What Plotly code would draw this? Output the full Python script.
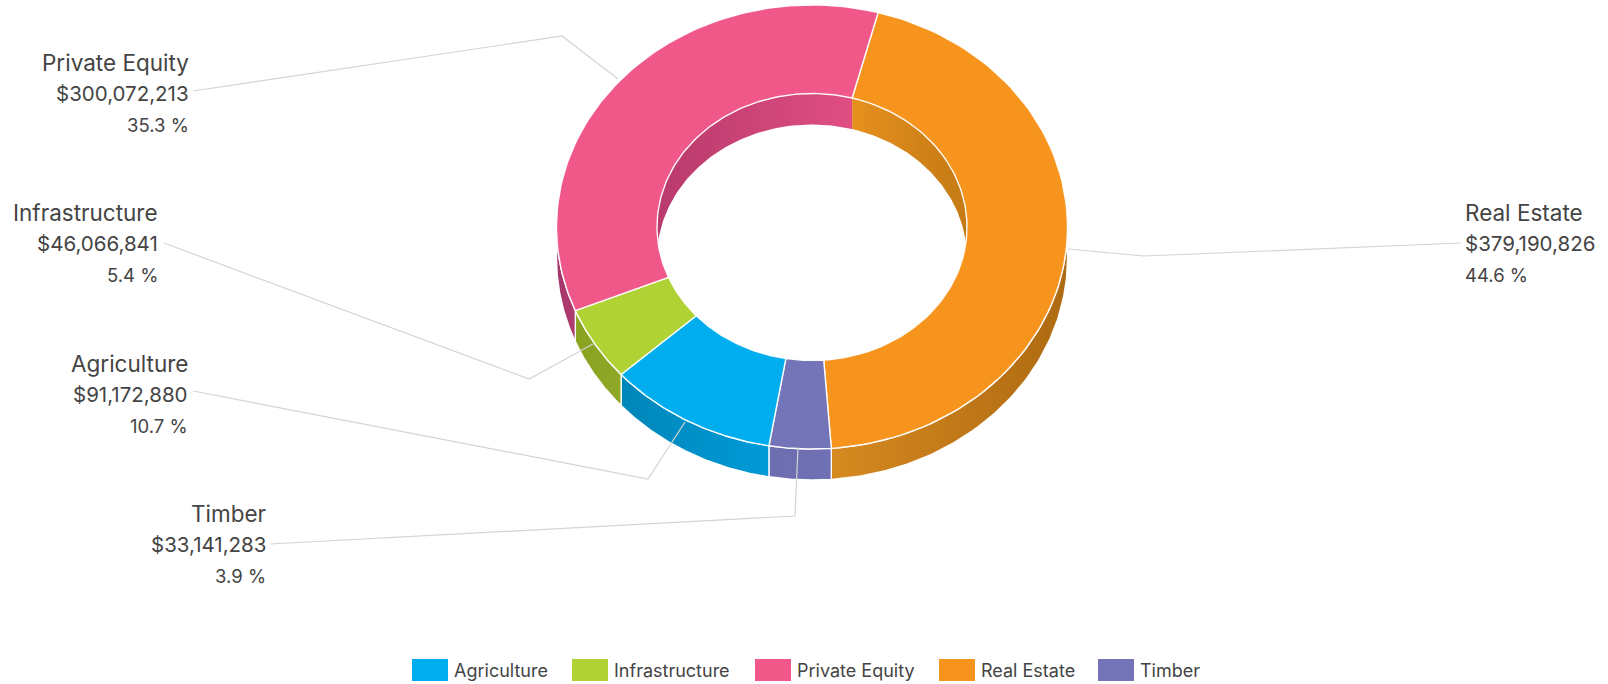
import numpy as np
import plotly.graph_objects as go

# ---- data ----
categories = ["Agriculture", "Infrastructure", "Private Equity", "Real Estate", "Timber"]
values = [91172880, 46066841, 300072213, 379190826, 33141283]
colors = ["#00AEEF", "#B0D235", "#F0588A", "#F7941E", "#7375B8"]
outer_wall_shades = [("#0086B8", "#009AD8"), ("#8AA21F", "#8FA828"), ("#A5356A", "#B03D72"),
                     ("#D68A20", "#AE6A12"), ("#6C6EB0", "#6F71B4")]
inner_wall_shades = [None, None, ("#B83A6C", "#E04E82"), ("#E6901E", "#C47A14"), None]

# clockwise drawing order, beginning at the top of the ring
draw_order = ["Real Estate", "Timber", "Agriculture", "Infrastructure", "Private Equity"]

# ---- geometry of the tilted ring, in page pixels ----
W, H = 1608, 684
CX, CY = 812, 227
RX_O, RY_O = 255.5, 222
RX_I, RY_I = 155, 133.5
DEPTH = 31
START_DEG = 15

# ---- label placement: text anchor and leader polyline ----
label_anchor = {
    "Private Equity": (191, "right", 62), "Infrastructure": (160, "right", 212),
    "Agriculture": (190, "right", 363), "Timber": (268, "right", 513),
    "Real Estate": (1463, "left", 212),
}
leaders = {
    "Private Equity": ([193, 562, 618], [91, 36, 79]),
    "Infrastructure": ([164, 529, 593], [243, 379, 344]),
    "Agriculture": ([193, 648, 685], [391, 479, 422]),
    "Timber": ([270, 795, 798], [544, 516, 448]),
    "Real Estate": ([1461, 1144, 1068], [243, 256, 249]),
}
legend_x = [412, 572, 755, 939, 1098]
label_sizes = [22.5, 20.5, 18.5]
LINE_GAP = 31.5
FONT = "Inter, Lato, sans-serif"
TEXT = "#444444"


def arc(rx, ry, a0, a1, dy=0.0, n=90):
    t = np.radians(np.linspace(a0, a1, n))
    return CX + rx * np.sin(t), CY - ry * np.cos(t) + dy


def band(rx, ry, a0, a1, b0, b1):
    x1, y1 = arc(rx, ry, a0, a1)
    x2, y2 = arc(rx, ry, b1, b0, DEPTH)
    return np.r_[x1, x2, x1[0]], np.r_[y1, y2, y1[0]]


total = sum(values)
idx = {c: i for i, c in enumerate(categories)}
angles = {}
cur = START_DEG
for c in draw_order:
    span = 360 * values[idx[c]] / total
    angles[c] = (cur, cur + span)
    cur += span

fig = go.Figure()
WHITE = dict(color="rgba(255,255,255,0.95)", width=1.4)


def poly(x, y, line=WHITE, **kw):
    fig.add_trace(go.Scatter(x=x, y=y, mode="lines", fill="toself", line=line,
                             hoverinfo="skip", showlegend=False, **kw))


# outer wall: visible on the near half of the ring
for c in draw_order:
    a0, a1 = angles[c]
    lo, hi = max(a0, 90), min(a1, 270)
    if hi > lo:
        s0, s1 = outer_wall_shades[idx[c]]
        x, y = band(RX_O, RY_O, lo, hi, lo, hi)
        poly(x, y, fillgradient=dict(type="horizontal", colorscale=[[0, s0], [1, s1]]))

# inner wall: visible on the far half of the hole
t0 = np.degrees(np.arccos(-DEPTH / (2 * RY_I)))
t1 = np.degrees(np.arccos(DEPTH / (2 * RY_I)))
for c in draw_order:
    if inner_wall_shades[idx[c]] is None:
        continue
    a0, a1 = angles[c]
    if a0 > 180:
        a0, a1 = a0 - 360, a1 - 360
    lo, hi = max(a0, -t0), min(a1, t0)
    blo, bhi = max(a0, -t1), min(a1, t1)
    s0, s1 = inner_wall_shades[idx[c]]
    x, y = band(RX_I, RY_I, lo, hi, blo, bhi)
    poly(x, y, line=dict(color="rgba(0,0,0,0)", width=0),
         fillgradient=dict(type="horizontal", colorscale=[[0, s0], [1, s1]]))

# top face
for c in draw_order:
    a0, a1 = angles[c]
    xo, yo = arc(RX_O, RY_O, a0, a1)
    xi, yi = arc(RX_I, RY_I, a1, a0)
    poly(np.r_[xo, xi, xo[0]], np.r_[yo, yi, yo[0]], fillcolor=colors[idx[c]])

# leader lines
for c, (lx, ly) in leaders.items():
    fig.add_trace(go.Scatter(x=lx, y=ly, mode="lines", hoverinfo="skip", showlegend=False,
                             line=dict(color="#d4d4d4", width=1.2)))

annotations = []
# data labels
for c, (ax, al, ay) in label_anchor.items():
    v = values[idx[c]]
    lines = [c, f"${v:,}", f"{100 * v / total:.1f} %"]
    for k, t in enumerate(lines):
        annotations.append(dict(x=ax, y=ay + k * LINE_GAP, xref="x", yref="y", text=t, showarrow=False,
                                xanchor=al, yanchor="middle",
                                font=dict(family=FONT, size=label_sizes[k], color=TEXT)))

# legend
shapes = []
for c, lx, col in zip(categories, legend_x, colors):
    shapes.append(dict(type="rect", xref="x", yref="y", x0=lx, x1=lx + 36, y0=659, y1=681,
                       fillcolor=col, line=dict(width=0)))
    annotations.append(dict(x=lx + 40, y=670.5, xref="x", yref="y", text=c, showarrow=False, xanchor="left",
                            yanchor="middle", font=dict(family=FONT, size=18, color=TEXT)))

fig.update_layout(
    width=W, height=H, margin=dict(l=0, r=0, t=0, b=0),
    paper_bgcolor="white", plot_bgcolor="white", showlegend=False,
    xaxis=dict(range=[0, W], visible=False, fixedrange=True),
    yaxis=dict(range=[H, 0], visible=False, fixedrange=True),
    annotations=annotations, shapes=shapes,
)
fig.write_html("out.html", config={"displayModeBar": False},
               post_script="document.body.style.margin='0';document.body.style.overflow='hidden';")
